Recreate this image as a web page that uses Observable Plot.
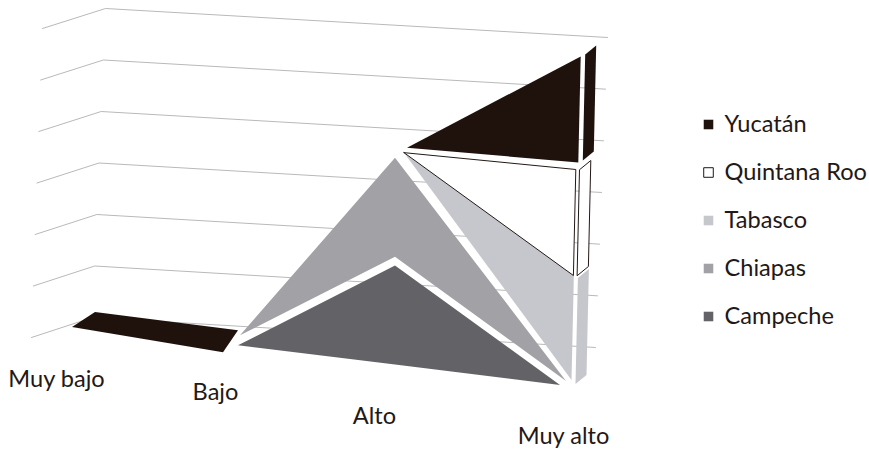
<!DOCTYPE html>
<html lang="es">
<head>
<meta charset="utf-8">
<title>Áreas apiladas por entidad</title>
<script src="https://cdn.jsdelivr.net/npm/d3@7"></script>
<script src="https://cdn.jsdelivr.net/npm/@observablehq/plot@0.6"></script>
<style>
  html, body { margin: 0; background: #fff; }
</style>
</head>
<body>
<div id="chart"></div>
<script>
// Values per level of marginalization, one array per state (bottom of the stack first).
const categories = ["Muy bajo", "Bajo", "Alto", "Muy alto"];
const seriesNames = ["Campeche", "Chiapas", "Tabasco", "Quintana Roo", "Yucatán"];
const campeche = [0, 0, 2, 0];
const chiapas = [0, 0, 2, 0];
const tabasco = [0, 0, 0, 2];
const quintanaRoo = [0, 0, 0, 2];
const yucatan = [0, 0, 0, 2];
const gridLevels = [0, 1, 2, 3, 4, 5, 6];
const legendOrder = ["Yucatán", "Quintana Roo", "Tabasco", "Chiapas", "Campeche"];

const seriesValues = [campeche, chiapas, tabasco, quintanaRoo, yucatan];
const fills = {"Campeche": "#636267", "Chiapas": "#a2a1a6", "Tabasco": "#c6c7cc", "Quintana Roo": "#ffffff", "Yucatán": "#1f120d"};
const ink = "#231815";

// Oblique view of the stack: front floor edge, height per unit and lean of the verticals.
const front = (c, v) => ({
  x: 72 + 163 * c + Math.max(0, c - 2) * 1.2 * v,
  y: 327 + 19.33 * c - (42.5 + 3.5 * c) * v
});
// Layers are pulled apart a little at each category so white seams show between them.
const explode = {
  "Campeche": [[0, 0], [3, -1], [-3, -1.2], [-1, 0]],
  "Chiapas": [[0, 0], [5, -11], [-3, -10], [5, -4]],
  "Tabasco": [[0, 0], [0, 0], [6, -15], [10.5, -5]],
  "Quintana Roo": [[0, 0], [0, 0], [6, -15], [10, -3.5]],
  "Yucatán": [[0, 0], [-12, 6], [9, -20], [12.5, -10.5]]
};
const place = (name, c, v) => {
  const p = front(c, v);
  return {x: p.x + explode[name][c][0], y: p.y + explode[name][c][1]};
};

// Stack the series and keep only the stretches where a layer has thickness.
const faces = [];
const caps = [];
const running = categories.map(() => 0);
seriesNames.forEach((name, s) => {
  const values = seriesValues[s];
  values.forEach((value, c) => {
    const low = running[c];
    const high = low + value;
    const active = value > 0 || values[c - 1] > 0 || values[c + 1] > 0;
    if (active) {
      const a = place(name, c, low);
      const b = place(name, c, high);
      faces.push({name, x1: a.x, y1: a.y, x2: b.x, y2: b.y});
    }
    running[c] = high;
  });
});

// End caps on the far right: the side of each layer, receding in depth.
const capGap = {"Tabasco": [4, 4], "Quintana Roo": [4, 0], "Yucatán": [4.5, -2]};
const capDepth = [11, -9];
let base = 0;
seriesNames.forEach((name, s) => {
  const value = seriesValues[s][3];
  if (value > 0) {
    const a = place(name, 3, base);
    const b = place(name, 3, base + value);
    const [gx, gy] = capGap[name];
    [0, 1].forEach((d) => caps.push({
      name,
      x1: a.x + gx + d * capDepth[0], y1: a.y + gy + d * capDepth[1],
      x2: b.x + gx + d * capDepth[0], y2: b.y + gy + d * capDepth[1]
    }));
    base += value;
  }
});

// Flat top of the stack between the two categories where every value is zero.
const bandDepth = [[23, -15], [15, -22]];
const band = [0, 1].map((c) => {
  const p = place("Yucatán", c, 0);
  return {x1: p.x, y1: p.y, x2: p.x + bandDepth[c][0], y2: p.y + bandDepth[c][1]};
});

// Box behind the stack: each level runs along the side wall and then the back wall.
const grid = gridLevels.flatMap((level) => [
  {level, x: 31 + 1.83 * level, y: 337 - 51.5 * level},
  {level, x: 92 + 2.17 * level, y: 317 - 51.5 * level},
  {level, x: 595 + 2 * level, y: 347 - 51.67 * level}
]);

const labelShift = [[-16, 52], [-20, 46], [-24, 50], [2, 51]];
const axisLabels = categories.map((label, c) => {
  const p = front(c, 0);
  return {label, x: p.x + labelShift[c][0], y: p.y + labelShift[c][1]};
});
const legend = legendOrder.map((name, i) => ({name, y: 124 + 48 * i}));

const font = "Lato, 'Noto Sans', sans-serif";
const faceMark = (name) => Plot.area(faces.filter((d) => d.name === name), {
  x1: "x1", y1: "y1", x2: "x2", y2: "y2",
  fill: fills[name],
  stroke: name === "Quintana Roo" ? ink : "none",
  strokeWidth: 1
});
const capMark = (name) => Plot.area(caps.filter((d) => d.name === name), {
  x1: "x1", y1: "y1", x2: "x2", y2: "y2",
  fill: fills[name],
  stroke: name === "Quintana Roo" ? ink : "none",
  strokeWidth: 1
});

const chart = Plot.plot({
  width: 869,
  height: 453,
  margin: 0,
  style: {background: "#fff", fontFamily: font},
  x: {type: "linear", domain: [0, 869], range: [0, 869], axis: null},
  y: {type: "linear", domain: [0, 453], range: [0, 453], axis: null},
  marks: [
    Plot.line(grid, {x: "x", y: "y", z: "level", stroke: "#b9b9b9", strokeWidth: 1}),
    Plot.area(band, {x1: "x1", y1: "y1", x2: "x2", y2: "y2", fill: fills["Yucatán"]}),
    ...seriesNames.map(faceMark),
    ...["Tabasco", "Quintana Roo", "Yucatán"].map(capMark),
    Plot.text(axisLabels, {x: "x", y: "y", text: "label", fontSize: 23.6, fill: ink, textAnchor: "middle", lineAnchor: "middle"}),
    Plot.dot(legend, {
      x: () => 708, y: "y", r: 5.4, symbol: "square",
      fill: (d) => fills[d.name],
      stroke: (d) => d.name === "Quintana Roo" ? ink : "none",
      strokeWidth: 1
    }),
    Plot.text(legend, {x: () => 724, y: "y", text: "name", fontSize: 23.6, fill: ink, textAnchor: "start", lineAnchor: "middle"})
  ]
});
document.getElementById("chart").append(chart);
</script>
</body>
</html>
